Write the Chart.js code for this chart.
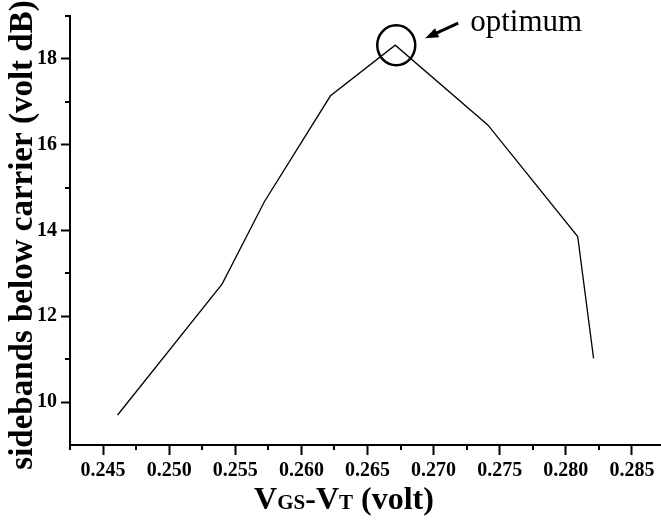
<!DOCTYPE html>
<html>
<head>
<meta charset="utf-8">
<script src="https://cdn.jsdelivr.net/npm/chart.js@4.4.1/dist/chart.umd.min.js"></script>
<style>
    html, body { margin: 0; padding: 0; background: #fff; }
    canvas { display: block; }
</style>
</head>
<body>
<canvas id="chart" width="661" height="525"></canvas>
<script>
// values
const vgsMinusVt = [0.2461, 0.2540, 0.2572, 0.2622, 0.2671, 0.2741, 0.2809, 0.2821];
const sidebandsDb = [9.70, 12.75, 14.67, 17.14, 18.32, 16.46, 13.86, 11.02];

const xTicks = [0.245, 0.250, 0.255, 0.260, 0.265, 0.270, 0.275, 0.280, 0.285];
const xMinorTicks = [0.2425, 0.2475, 0.2525, 0.2575, 0.2625, 0.2675, 0.2725, 0.2775, 0.2825];
const yTicks = [10, 12, 14, 16, 18];
const yMinorTicks = [11, 13, 15, 17, 19];

const peakIndex = 4;
const serif = '"Liberation Serif", "Times New Roman", serif';

/**
 * Minor ticks, axis titles and the "optimum" marker
 */
const pluginExtras = {
    id: 'extras',
    afterDraw: function(chart) {
        'use strict';
        const ctx = chart.ctx;
        const x = chart.scales.x;
        const y = chart.scales.y;
        const area = chart.chartArea;

        ctx.save();
        ctx.strokeStyle = '#000';
        ctx.fillStyle = '#000';

        // minor ticks
        ctx.lineWidth = 2;
        ctx.beginPath();
        for (const v of xMinorTicks) {
            const px = Math.round(x.getPixelForValue(v));
            ctx.moveTo(px, area.bottom);
            ctx.lineTo(px, area.bottom + 5);
        }
        for (const v of yMinorTicks) {
            const py = Math.round(y.getPixelForValue(v));
            ctx.moveTo(area.left, py);
            ctx.lineTo(area.left - 5, py);
        }
        ctx.stroke();

        // y title
        ctx.save();
        ctx.translate(32, 235);
        ctx.rotate(-Math.PI / 2);
        ctx.font = 'bold 33px ' + serif;
        ctx.textAlign = 'center';
        ctx.textBaseline = 'alphabetic';
        ctx.fillText('sidebands below carrier (volt dB)', 0, 0);
        ctx.restore();

        // x title with small subscripts
        const parts = [
            ['V', 32], ['GS', 21], ['-', 32], ['V', 32], ['T', 21], [' (volt)', 32],
        ];
        let total = 0;
        for (const part of parts) {
            ctx.font = 'bold ' + part[1] + 'px ' + serif;
            total += ctx.measureText(part[0]).width;
        }
        let cx = 344 - total / 2;
        ctx.textAlign = 'left';
        ctx.textBaseline = 'alphabetic';
        for (const part of parts) {
            ctx.font = 'bold ' + part[1] + 'px ' + serif;
            ctx.fillText(part[0], cx, 509);
            cx += ctx.measureText(part[0]).width;
        }

        // optimum marker
        const px = x.getPixelForValue(vgsMinusVt[peakIndex]);
        const py = y.getPixelForValue(sidebandsDb[peakIndex]);
        ctx.lineWidth = 2.5;
        ctx.beginPath();
        ctx.ellipse(px + 1, py, 19, 20, 0, 0, Math.PI * 2);
        ctx.stroke();

        const tipX = px + 30;
        const tipY = py - 7;
        const tailX = px + 63;
        const tailY = py - 22;
        const ang = Math.atan2(tipY - tailY, tipX - tailX);
        ctx.lineWidth = 3;
        ctx.beginPath();
        ctx.moveTo(tailX, tailY);
        ctx.lineTo(tipX - 8 * Math.cos(ang), tipY - 8 * Math.sin(ang));
        ctx.stroke();
        ctx.beginPath();
        ctx.moveTo(tipX, tipY);
        ctx.lineTo(tipX - 13 * Math.cos(ang) + 5 * Math.sin(ang),
            tipY - 13 * Math.sin(ang) - 5 * Math.cos(ang));
        ctx.lineTo(tipX - 13 * Math.cos(ang) - 5 * Math.sin(ang),
            tipY - 13 * Math.sin(ang) + 5 * Math.cos(ang));
        ctx.closePath();
        ctx.fill();

        ctx.font = '31px ' + serif;
        ctx.textAlign = 'left';
        ctx.fillText('optimum', px + 75, py - 14);

        ctx.restore();
    },
};

const points = vgsMinusVt.map((v, i) => ({x: v, y: sidebandsDb[i]}));

new Chart(document.getElementById('chart'), {
    type: 'line',
    data: {
        datasets: [{
            data: points,
            borderColor: '#000',
            borderWidth: 1.3,
            pointRadius: 0,
            tension: 0,
            fill: false,
        }],
    },
    options: {
        responsive: false,
        animation: false,
        layout: {padding: {top: 11, right: 0, left: 0, bottom: 0}},
        plugins: {
            legend: {display: false},
            tooltip: {enabled: false},
        },
        scales: {
            x: {
                type: 'linear',
                min: 0.2425,
                max: 0.2872,
                afterBuildTicks: function(scale) {
                    scale.ticks = xTicks.map((v) => ({value: v}));
                },
                afterFit: function(scale) {
                    scale.height = 80;
                },
                ticks: {
                    callback: (v) => v.toFixed(3),
                    font: {family: serif, weight: 'bold', size: 20},
                    color: '#000',
                    maxRotation: 0,
                    autoSkip: false,
                    padding: 4,
                },
                grid: {
                    drawOnChartArea: false,
                    tickLength: 10,
                    tickWidth: 2,
                    tickColor: '#000',
                },
                border: {display: true, color: '#000', width: 2},
            },
            y: {
                type: 'linear',
                min: 9,
                max: 19,
                afterBuildTicks: function(scale) {
                    scale.ticks = yTicks.map((v) => ({value: v}));
                },
                afterFit: function(scale) {
                    scale.width = 70;
                },
                ticks: {
                    callback: (v) => String(v),
                    font: {family: serif, weight: 'bold', size: 20},
                    color: '#000',
                    padding: 4,
                },
                grid: {
                    drawOnChartArea: false,
                    tickLength: 9,
                    tickWidth: 2,
                    tickColor: '#000',
                },
                border: {display: true, color: '#000', width: 2},
            },
        },
    },
    plugins: [pluginExtras],
});
</script>
</body>
</html>
